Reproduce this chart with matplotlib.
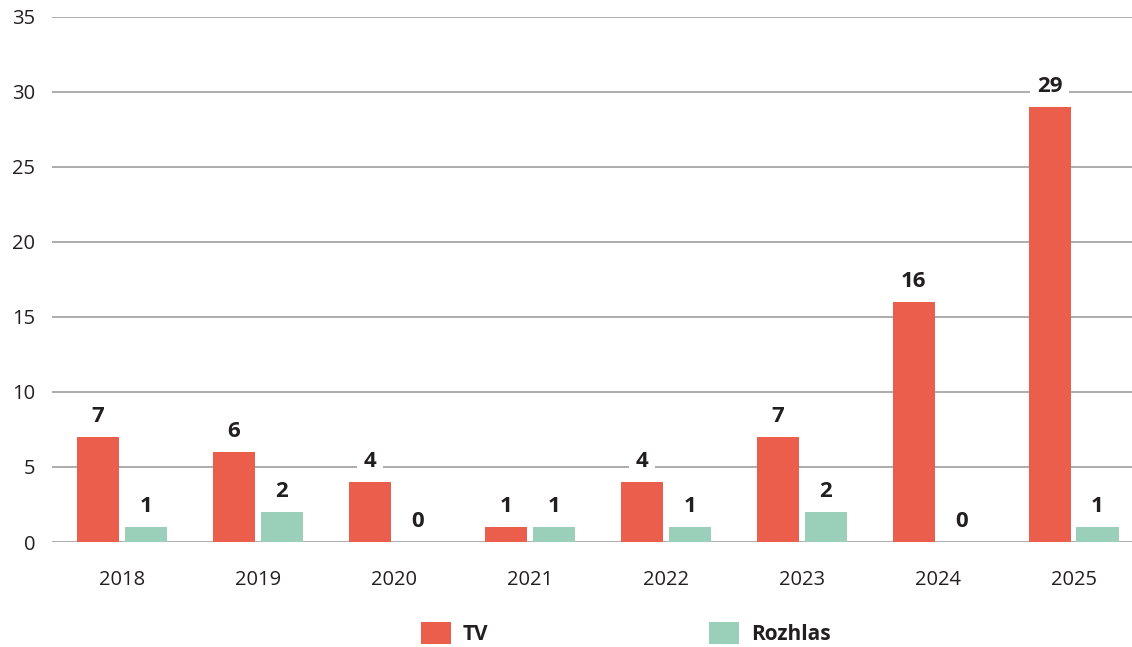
import matplotlib
matplotlib.use("Agg")
from matplotlib import pyplot as plt
import numpy as np

years = ["2018", "2019", "2020", "2021", "2022", "2023", "2024", "2025"]
tv = [7, 6, 4, 1, 4, 7, 16, 29]
rozhlas = [1, 2, 0, 1, 1, 2, 0, 1]
y_ticks = [0, 5, 10, 15, 20, 25, 30, 35]

TV_COLOR = "#eb5e4b"
ROZ_COLOR = "#9acfb9"
TEXT_COLOR = "#231f20"
GRID_COLOR = "#a6a6a6"

plt.rcParams["font.family"] = ["Open Sans", "DejaVu Sans"]

fig = plt.figure(figsize=(11.32, 6.47), dpi=100)
ax = fig.add_axes([52 / 1132, 1 - 542 / 647, 1 - 52 / 1132, (542 - 16.6) / 647])

x = np.arange(len(years))
width = 0.31
offset = 0.176

bars_tv = ax.bar(x - offset, tv, width, color=TV_COLOR, label="TV", zorder=3)
bars_roz = ax.bar(x + offset, rozhlas, width, color=ROZ_COLOR, label="Rozhlas", zorder=3)

# value labels sit on a white box, so the gridlines break behind them
for bars, vals in ((bars_tv, tv), (bars_roz, rozhlas)):
    for b, v in zip(bars, vals):
        ax.annotate(str(v), (b.get_x() + b.get_width() / 2, b.get_height()),
                    xytext=(0, 7), textcoords="offset points",
                    ha="center", va="bottom", fontsize=16, fontweight="bold",
                    color=TEXT_COLOR, zorder=5,
                    bbox=dict(boxstyle="square,pad=0.3", fc="white", ec="none"))

ax.set_xlim(-0.515, 7.43)
ax.set_ylim(0, 35)
ax.set_yticks(y_ticks)
ax.set_xticks(x)
ax.set_xticklabels(years)
ax.yaxis.grid(True, color=GRID_COLOR, linewidth=1.3, zorder=0)
ax.set_axisbelow(True)
for s in ax.spines.values():
    s.set_visible(False)
ax.tick_params(axis="both", length=0, labelsize=14.5, colors=TEXT_COLOR)
ax.tick_params(axis="x", pad=20)
ax.tick_params(axis="y", pad=12)

leg = fig.legend(handles=[bars_tv, bars_roz], loc="center", bbox_to_anchor=(0.553, 0.021),
                 ncol=2, frameon=False, handlelength=1.44, handleheight=1.25,
                 handletextpad=0.58, columnspacing=10.6,
                 prop={"size": 15, "weight": "bold"})
for t in leg.get_texts():
    t.set_color(TEXT_COLOR)

fig.savefig("out.png", dpi=100)
